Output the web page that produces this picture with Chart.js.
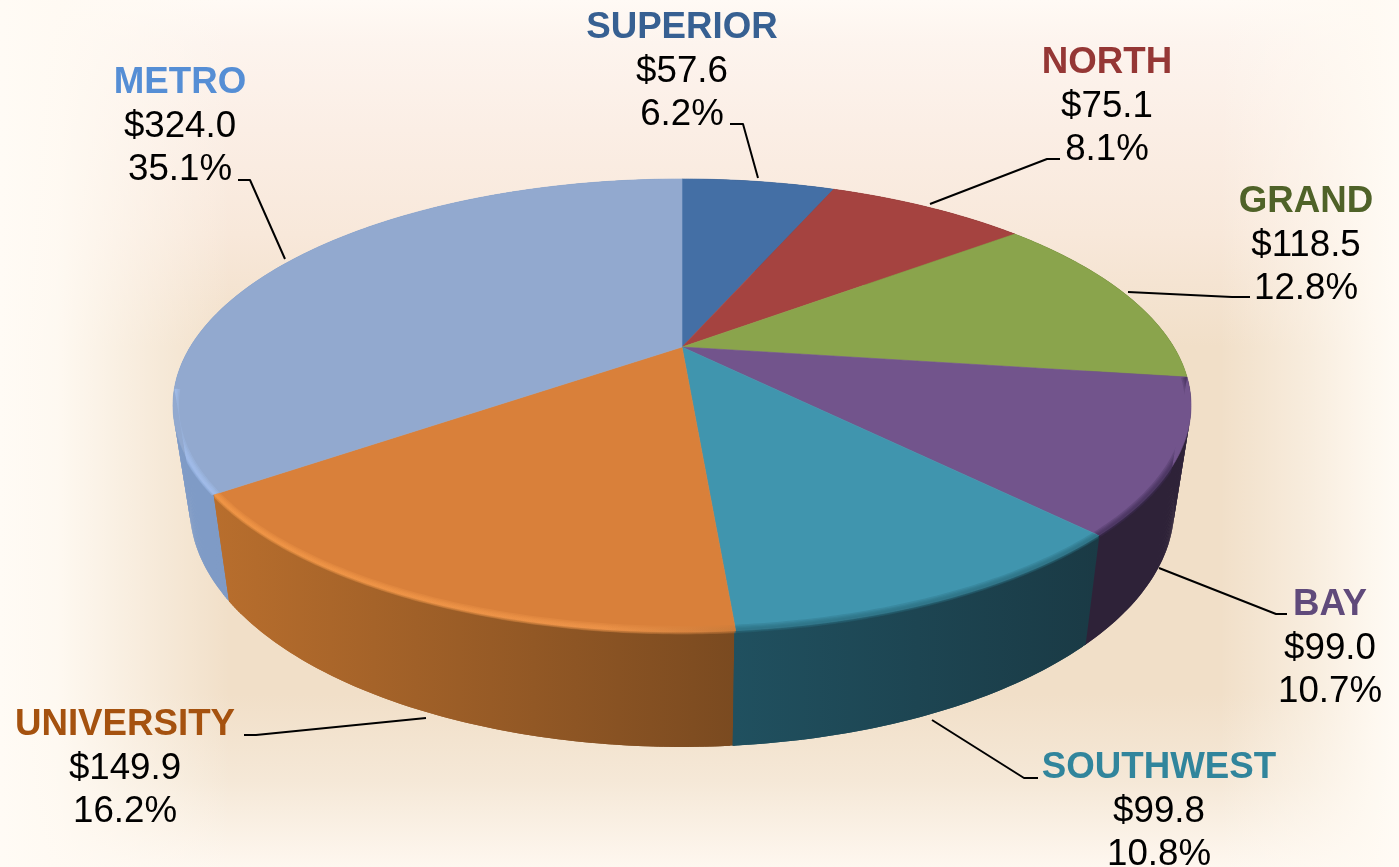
<!DOCTYPE html>
<html><head><meta charset="utf-8">
<script src="https://cdn.jsdelivr.net/npm/chart.js@4/dist/chart.umd.js"></script>
<style>html,body{margin:0;padding:0;background:#fffdf9}canvas{display:block}</style>
</head><body><canvas id="c" width="1399" height="867"></canvas>
<script>
const categories = ['SUPERIOR','NORTH','GRAND','BAY','SOUTHWEST','UNIVERSITY','METRO'];
const amounts = [57.6,75.1,118.5,99.0,99.8,149.9,324.0];
const shares = ['6.2%','8.1%','12.8%','10.7%','10.8%','16.2%','35.1%'];
const topColors = ['#446fa5','#a54340','#8aa44c','#72548c','#4095ae','#d9803a','#92a9cf'];
const nameColors = ['#376092','#953735','#4f6228','#604a7b','#31859c','#a5520f','#558ed5'];
const sideLeft = ['#2f4d74','#732f2d','#5d6f34','#2e2238','#20505f','#b86e2d','#7f9bc6'];
const sideRight = ['#2f4d74','#732f2d','#5d6f34','#2e2238','#1a3a45','#7a4a20','#7592bd'];
const rimColors = [null,null,null,'#3f2f55','#2b6a7e','#f59a4a','#a5c2f0'];

// geometry of the projected disc
const geo = {cx:682, cy:347, a:491.8, b:211.4, k:0.258, sx:0.967, sy:1.057, dy:79, midY:405.5};
const project = ang => {
  const X = Math.cos(ang), Y = Math.sin(ang), w = 1 - geo.k * Y;
  return [geo.cx + geo.a * X / w, geo.cy + geo.b * Y / w];
};
const lower = p => [geo.cx + geo.sx * (p[0] - geo.cx), geo.sy * p[1] + geo.dy];
const offsetRim = (p, d) => {
  const dx = (p[0] - geo.cx) / 509, dy = (p[1] - geo.midY) / 226.5, n = Math.hypot(dx, dy) || 1;
  return [p[0] + d * dx / n, p[1] + d * dy / n];
};

// label placement: centre x, first baseline; leader polyline
const labelPos = [
  {x:682, y:38, leader:[[730,124],[743,124],[758,178]]},
  {x:1107,y:73, leader:[[1060,159],[1047,159],[930,204]]},
  {x:1306,y:212,leader:[[1250,297],[1232,297],[1128,292]]},
  {x:1330,y:615,leader:[[1287,614],[1276,614],[1159,568]]},
  {x:1159,y:778,leader:[[1038,778],[1024,778],[932,720]]},
  {x:125, y:735,leader:[[244,735],[256,735],[426,718]]},
  {x:180, y:93, leader:[[238,180],[250,180],[285,259]]}
];
const lineGap = 43.5;

function arcPts(a1, a2, step) {
  const n = Math.max(2, Math.ceil((a2 - a1) / step)), out = [];
  for (let i = 0; i <= n; i++) out.push(a1 + (a2 - a1) * i / n);
  return out;
}
function poly(ctx, pts) {
  pts.forEach((p, i) => i ? ctx.lineTo(p[0], p[1]) : ctx.moveTo(p[0], p[1]));
}

const backdrop = {
  id:'backdrop',
  beforeDraw(chart) {
    const ctx = chart.ctx, W = chart.width, H = chart.height;
    ctx.save();
    const v = ctx.createLinearGradient(0,0,0,H);
    v.addColorStop(0,'#fffaf5');
    v.addColorStop(0.05,'#fdf4ee');
    v.addColorStop(0.15,'#fbeee5');
    v.addColorStop(0.27,'#f8e8da');
    v.addColorStop(0.40,'#f1dfc8');
    v.addColorStop(0.80,'#f1dfc8');
    v.addColorStop(0.90,'#f5e8d7');
    v.addColorStop(1,'#fef7ef');
    ctx.fillStyle = v; ctx.fillRect(0,0,W,H);
    const l = ctx.createLinearGradient(0,0,230,0);
    l.addColorStop(0,'rgba(255,251,245,1)'); l.addColorStop(0.25,'rgba(255,250,243,0.95)');
    l.addColorStop(0.6,'rgba(255,250,243,0.5)'); l.addColorStop(1,'rgba(255,250,243,0)');
    ctx.fillStyle = l; ctx.fillRect(0,0,230,H);
    const r = ctx.createLinearGradient(1220,0,1399,0);
    r.addColorStop(0,'rgba(255,250,243,0)'); r.addColorStop(0.5,'rgba(255,250,243,0.5)');
    r.addColorStop(0.85,'rgba(255,250,243,0.9)'); r.addColorStop(1,'rgba(255,251,245,1)');
    ctx.fillStyle = r; ctx.fillRect(1220,0,179,H);
    ctx.restore();
  }
};

const disc3d = {
  id:'disc3d',
  beforeDatasetsDraw(chart) {
    const ctx = chart.ctx, arcs = chart.getDatasetMeta(0).data;
    const order = arcs.map((el,i) => i).sort((p,q) =>
      Math.sin((arcs[p].startAngle+arcs[p].endAngle)/2) - Math.sin((arcs[q].startAngle+arcs[q].endAngle)/2));
    // side walls, back to front
    order.forEach(i => {
      const el = arcs[i];
      const xa = project(el.startAngle)[0], xb = project(el.endAngle)[0];
      const g = ctx.createLinearGradient(Math.min(xa,xb),0,Math.max(xa,xb),0);
      g.addColorStop(0,sideLeft[i]); g.addColorStop(1,sideRight[i]);
      ctx.fillStyle = g;
      const as = arcPts(el.startAngle - 0.002, el.endAngle + 0.002, 0.008);
      for (let j = 0; j + 1 < as.length; j++) {
        const p = project(as[j]), q = project(as[Math.min(j+2, as.length-1)]);
        ctx.beginPath(); poly(ctx,[p,q,lower(q),lower(p)]); ctx.closePath(); ctx.fill();
      }
    });
    // top faces
    arcs.forEach((el,i) => {
      const pts = [[geo.cx,geo.cy]].concat(arcPts(el.startAngle, el.endAngle, 0.01).map(project));
      ctx.beginPath(); poly(ctx,pts); ctx.closePath();
      ctx.fillStyle = topColors[i]; ctx.strokeStyle = topColors[i]; ctx.lineWidth = 0.6;
      ctx.fill(); ctx.stroke();
    });
    // soft bevel on the near rim
    arcs.forEach((el,i) => {
      if (!rimColors[i]) return;
      const as = arcPts(el.startAngle, Math.min(el.endAngle, Math.PI*0.94), 0.01);
      const topArc = as.map(project), botArc = topArc.map(lower);
      const wedge = [[geo.cx,geo.cy], topArc[0]].concat(botArc, [topArc[topArc.length-1]]);
      ctx.save();
      ctx.beginPath(); poly(ctx,wedge); ctx.closePath(); ctx.clip();
      let style = rimColors[i];
      if (i === 5) {
        style = ctx.createLinearGradient(214,0,735,0);
        style.addColorStop(0,'#f69a48'); style.addColorStop(0.75,'#f2984c'); style.addColorStop(1,'#c87a3a');
      }
      ctx.fillStyle = style;
      ctx.globalAlpha = 0.28;
      [[-6,2.5],[-4.5,2],[-3.2,1.2],[-2,0.6]].forEach(([inner,outer]) => {
        const band = topArc.map(p => offsetRim(p, inner)).concat(topArc.slice().reverse().map(p => offsetRim(p, outer)));
        ctx.beginPath(); poly(ctx,band); ctx.closePath(); ctx.fill();
      });
      ctx.restore();
    });
    return false;
  },
  afterDraw(chart) {
    const ctx = chart.ctx;
    ctx.save();
    ctx.strokeStyle = '#000'; ctx.lineWidth = 2; ctx.lineJoin = 'round';
    ctx.textAlign = 'center'; ctx.textBaseline = 'alphabetic';
    categories.forEach((name,i) => {
      const L = labelPos[i];
      ctx.beginPath(); poly(ctx,L.leader); ctx.stroke();
      ctx.font = 'bold 36.7px "Liberation Sans", Arial, sans-serif';
      ctx.fillStyle = nameColors[i];
      ctx.fillText(name, L.x, L.y);
      ctx.font = '36.7px "Liberation Sans", Arial, sans-serif';
      ctx.fillStyle = '#000';
      ctx.fillText('$' + amounts[i].toFixed(1), L.x, L.y + lineGap);
      ctx.fillText(shares[i], L.x, L.y + 2*lineGap);
    });
    ctx.restore();
  }
};

new Chart(document.getElementById('c'), {
  type:'pie',
  data:{labels:categories, datasets:[{data:amounts, backgroundColor:topColors, borderWidth:0}]},
  options:{
    responsive:false, animation:false, rotation:0, circumference:360,
    events:[],
    plugins:{legend:{display:false}, tooltip:{enabled:false}}
  },
  plugins:[backdrop, disc3d]
});
</script></body></html>
